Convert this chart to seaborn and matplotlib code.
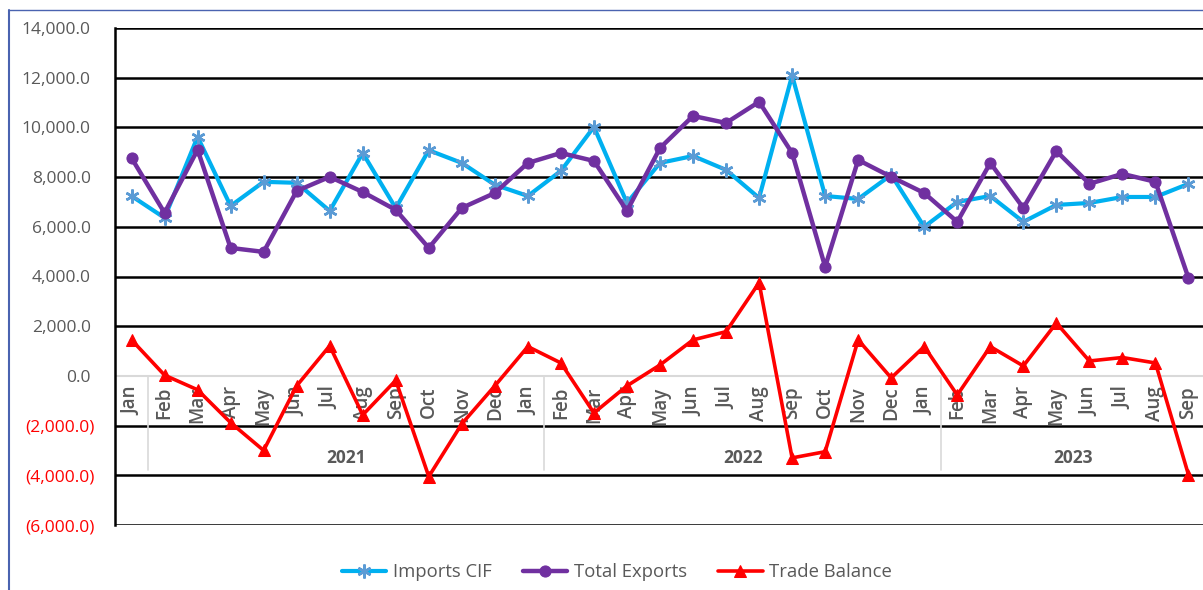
import numpy as np
import pandas as pd
import matplotlib
matplotlib.use('Agg')
import matplotlib.pyplot as plt
import seaborn as sns
from matplotlib.lines import Line2D

# Data
months = ['Jan', 'Feb', 'Mar', 'Apr', 'May', 'Jun', 'Jul', 'Aug', 'Sep', 'Oct', 'Nov', 'Dec',
          'Jan', 'Feb', 'Mar', 'Apr', 'May', 'Jun', 'Jul', 'Aug', 'Sep', 'Oct', 'Nov', 'Dec',
          'Jan', 'Feb', 'Mar', 'Apr', 'May', 'Jun', 'Jul', 'Aug', 'Sep']
years = ['2021', '2022', '2023']
year_first_idx = [1, 13, 25]
year_last_idx = [12, 24, 32]

imports_cif = [7240, 6360, 9620, 6840, 7810, 7770, 6640, 8970, 6750, 9080,
               8570, 7690, 7240, 8250, 10020, 6960, 8570, 8850, 8290, 7160,
               12090, 7240, 7120, 8090, 6000, 7000, 7240, 6200, 6880, 6960,
               7200, 7200, 7730]
total_exports = [8770, 6560, 9100, 5150, 4990, 7440, 8010, 7400, 6680, 5150,
                 6760, 7360, 8570, 8970, 8650, 6640, 9170, 10460, 10180, 11030,
                 8970, 4390, 8690, 8010, 7360, 6200, 8570, 6760, 9050, 7730,
                 8130, 7810, 3940]
trade_balance = [1450, 30, -560, -1880, -3000, -400, 1210, -1570, -180, -4050,
                 -1930, -400, 1180, 520, -1490, -400, 440, 1450, 1780, 3750,
                 -3300, -3050, 1450, -80, 1180, -770, 1180, 400, 2130, 600,
                 740, 520, -3980]

df = pd.DataFrame({
    'idx': np.arange(len(months)),
    'Imports CIF': imports_cif,
    'Total Exports': total_exports,
    'Trade Balance': trade_balance,
})

sns.set_style('white')
plt.rcParams['font.family'] = ['Open Sans', 'DejaVu Sans']

W, H = 1203, 590
fig = plt.figure(figsize=(W / 100, H / 100), dpi=100)
ax = fig.add_axes([115 / W, 1 - 525 / H, (1203 - 115) / W, (525 - 28) / H])

gray_txt = '#595959'

# gridlines
for v in np.arange(-6000, 14001, 2000):
    if v == 0:
        continue
    ax.axhline(v, color='black', lw=1.8, zorder=1)
ax.axhline(0, color='#d9d9d9', lw=1.5, zorder=1)

sns.lineplot(data=df, x='idx', y='Imports CIF', ax=ax, color='#00b0f0', lw=3.0,
             marker=(6, 2, 0), markersize=10, markeredgecolor='#5b9bd5',
             markeredgewidth=1.8, label='Imports CIF', zorder=3)
sns.lineplot(data=df, x='idx', y='Total Exports', ax=ax, color='#7030a0', lw=3.2,
             marker='o', markersize=8, markeredgecolor='#7030a0',
             label='Total Exports', zorder=4)
sns.lineplot(data=df, x='idx', y='Trade Balance', ax=ax, color='#ff0000', lw=2.6,
             marker='^', markersize=8, markeredgecolor='#ff0000',
             label='Trade Balance', zorder=5)

ax.set_xlim(-0.5, -0.5 + (1203 - 115) / 33.03)
ax.set_ylim(-6000, 14000)
ax.set_xlabel('')
ax.set_ylabel('')
ax.set_xticks([])

for s in ['top', 'right', 'bottom']:
    ax.spines[s].set_visible(False)
ax.spines['left'].set_color('black')
ax.spines['left'].set_linewidth(1.8)
ax.spines['left'].set_zorder(2)

# y ticks: Excel style accounting format
yt = np.arange(-6000, 14001, 2000)
ax.set_yticks(yt)
labels = [f'({abs(v):,.1f})' if v < 0 else f'{v:,.1f}' for v in yt]
ax.set_yticklabels(labels)
ax.tick_params(axis='y', length=0, labelsize=12.5)
for tick, v in zip(ax.yaxis.get_major_ticks(), yt):
    if v < 0:
        tick.label1.set_color('#ff0000')
        tick.set_pad(14.5)
    else:
        tick.label1.set_color(gray_txt)
        tick.set_pad(17.5)

# category axis (months and years) drawn at the zero line
for i, m in enumerate(months):
    ax.text(i, -420, m, rotation=90, ha='center', va='top', fontsize=13.5,
            fontweight='semibold', color=gray_txt, zorder=2)
for y, a, b in zip(years, year_first_idx, year_last_idx):
    ax.text((a + b) / 2, -3300, y, ha='center', va='center', fontsize=12.5,
            fontweight='bold', color=gray_txt, zorder=2)
    ax.plot([a - 0.5, a - 0.5], [0, -3780], color='#d9d9d9', lw=1.2, zorder=1)
ax.plot([-0.5, -0.5], [0, -3780], color='#d9d9d9', lw=1.2, zorder=1)

# legend
ax.get_legend().remove()
handles, lbls = ax.get_legend_handles_labels()
leg = fig.legend(handles, lbls, loc='center', bbox_to_anchor=(617 / W, 1 - 572 / H),
                 ncol=3, frameon=False, fontsize=13.3, handlelength=2.4,
                 handletextpad=0.35, columnspacing=1.7)
for t in leg.get_texts():
    t.set_color(gray_txt)

# blue chart frame (left and top edges)
fig.add_artist(Line2D([9 / W, 9 / W], [0, 1 - 10 / H], color='#4a63b0', lw=1.5))
fig.add_artist(Line2D([9 / W, 1], [1 - 10 / H, 1 - 10 / H], color='#4a63b0', lw=1.0))

fig.savefig('out.png', dpi=100)
